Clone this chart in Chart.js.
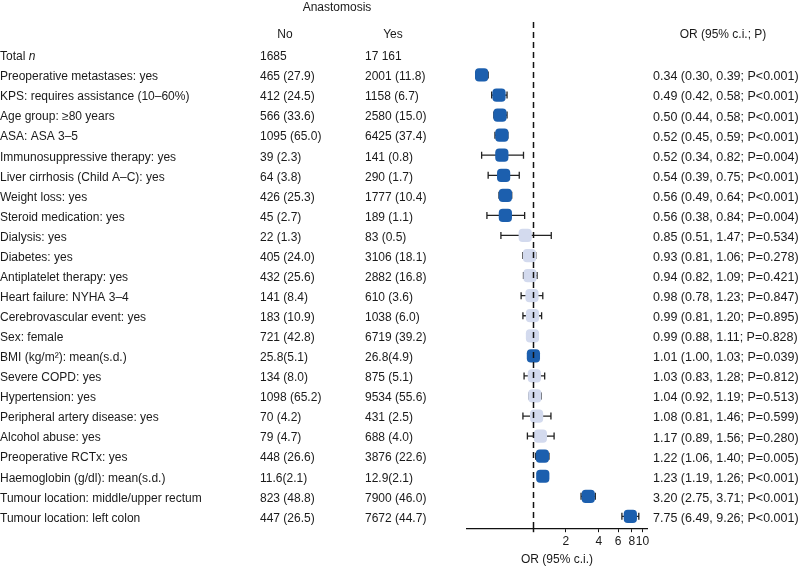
<!DOCTYPE html>
<html>
<head>
<meta charset="utf-8">
<script src="https://cdn.jsdelivr.net/npm/chart.js@4"></script>
<style>
  html, body { margin: 0; padding: 0; background: #fff; }
  #forest { display: block; }
</style>
</head>
<body>
<canvas id="forest" width="800" height="567"></canvas>
<script>
// rows of the table, top to bottom
var row_labels = [
    "Preoperative metastases: yes",
    "KPS: requires assistance (10\u201360%)",
    "Age group: \u226580 years",
    "ASA: ASA 3\u20135",
    "Immunosuppressive therapy: yes",
    "Liver cirrhosis (Child A\u2013C): yes",
    "Weight loss: yes",
    "Steroid medication: yes",
    "Dialysis: yes",
    "Diabetes: yes",
    "Antiplatelet therapy: yes",
    "Heart failure: NYHA 3\u20134",
    "Cerebrovascular event: yes",
    "Sex: female",
    "BMI (kg/m\u00b2): mean(s.d.)",
    "Severe COPD: yes",
    "Hypertension: yes",
    "Peripheral artery disease: yes",
    "Alcohol abuse: yes",
    "Preoperative RCTx: yes",
    "Haemoglobin (g/dl): mean(s.d.)",
    "Tumour location: middle/upper rectum",
    "Tumour location: left colon"
];
var no_values = ["465 (27.9)", "412 (24.5)", "566 (33.6)", "1095 (65.0)", "39 (2.3)", "64 (3.8)",
                 "426 (25.3)", "45 (2.7)", "22 (1.3)", "405 (24.0)", "432 (25.6)", "141 (8.4)",
                 "183 (10.9)", "721 (42.8)", "25.8(5.1)", "134 (8.0)", "1098 (65.2)", "70 (4.2)",
                 "79 (4.7)", "448 (26.6)", "11.6(2.1)", "823 (48.8)", "447 (26.5)"];
var yes_values = ["2001 (11.8)", "1158 (6.7)", "2580 (15.0)", "6425 (37.4)", "141 (0.8)", "290 (1.7)",
                  "1777 (10.4)", "189 (1.1)", "83 (0.5)", "3106 (18.1)", "2882 (16.8)", "610 (3.6)",
                  "1038 (6.0)", "6719 (39.2)", "26.8(4.9)", "875 (5.1)", "9534 (55.6)", "431 (2.5)",
                  "688 (4.0)", "3876 (22.6)", "12.9(2.1)", "7900 (46.0)", "7672 (44.7)"];
var odds_ratio = [0.34, 0.49, 0.50, 0.52, 0.52, 0.54, 0.56, 0.56, 0.85, 0.93, 0.94, 0.98,
                  0.99, 0.99, 1.01, 1.03, 1.04, 1.08, 1.17, 1.22, 1.23, 3.20, 7.75];
var ci_low  = [0.30, 0.42, 0.44, 0.45, 0.34, 0.39, 0.49, 0.38, 0.51, 0.81, 0.82, 0.78,
               0.81, 0.88, 1.00, 0.83, 0.92, 0.81, 0.89, 1.06, 1.19, 2.75, 6.49];
var ci_high = [0.39, 0.58, 0.58, 0.59, 0.82, 0.75, 0.64, 0.84, 1.47, 1.06, 1.09, 1.23,
               1.20, 1.11, 1.03, 1.28, 1.19, 1.46, 1.56, 1.40, 1.26, 3.71, 9.26];
var p_text = ["P<0.001", "P<0.001", "P<0.001", "P<0.001", "P=0.004", "P<0.001", "P<0.001",
              "P=0.004", "P=0.534", "P=0.278", "P=0.421", "P=0.847", "P=0.895", "P=0.828",
              "P=0.039", "P=0.812", "P=0.513", "P=0.599", "P=0.280", "P=0.005", "P<0.001",
              "P<0.001", "P<0.001"];
var significant = [1, 1, 1, 1, 1, 1, 1, 1, 0, 0, 0, 0, 0, 0, 1, 0, 0, 0, 0, 1, 1, 1, 1];
var total_no = "1685";
var total_yes = "17 161";
var x_ticks = [2, 4, 6, 8, 10];

var dark_blue = "#1c5fae";
var light_blue = "#d3daee";
var text_color = "#1a1a1a";
var text_font = "12px 'Liberation Sans', Arial, sans-serif";
var or_font = "12.5px 'Liberation Sans', Arial, sans-serif";

var points = [];
var point_colors = [];
for (let i = 0; i < odds_ratio.length; i++) {
    points.push({x: odds_ratio[i], y: i + 1});   // row 0 is "Total n"
    point_colors.push(significant[i] ? dark_blue : light_blue);
}

// dashed reference line at OR = 1, drawn on top of the markers
var refLine = {
    id: "refLine",
    afterDatasetsDraw(chart) {
        let ctx = chart.ctx;
        let x = Math.round(chart.scales.x.getPixelForValue(1)) + 0.5;
        ctx.save();
        ctx.strokeStyle = "#111";
        ctx.lineWidth = 1.5;
        ctx.setLineDash([6, 4]);
        ctx.beginPath();
        ctx.moveTo(x, chart.chartArea.top);
        ctx.lineTo(x, chart.chartArea.bottom);
        ctx.stroke();
        ctx.setLineDash([]);
        ctx.beginPath();
        ctx.moveTo(x, chart.chartArea.bottom);
        ctx.lineTo(x, chart.chartArea.bottom + 4);
        ctx.stroke();
        ctx.restore();
    }
};

// confidence interval whiskers, under the markers
var errorBars = {
    id: "errorBars",
    beforeDatasetsDraw(chart) {
        let ctx = chart.ctx;
        let xs = chart.scales.x, ys = chart.scales.y;
        ctx.save();
        ctx.strokeStyle = "#222";
        ctx.lineWidth = 1.3;
        for (let i = 0; i < odds_ratio.length; i++) {
            let y = ys.getPixelForValue(i + 1);
            let x1 = xs.getPixelForValue(ci_low[i]);
            let x2 = xs.getPixelForValue(ci_high[i]);
            ctx.beginPath();
            ctx.moveTo(x1, y); ctx.lineTo(x2, y);
            ctx.moveTo(x1, y - 3.5); ctx.lineTo(x1, y + 3.5);
            ctx.moveTo(x2, y - 3.5); ctx.lineTo(x2, y + 3.5);
            ctx.stroke();
        }
        ctx.restore();
    }
};

// the table columns left and right of the plot
var tableText = {
    id: "tableText",
    afterDraw(chart) {
        let ctx = chart.ctx;
        let ys = chart.scales.y;
        let dy = 2;   // text sits a touch below the marker centres
        ctx.save();
        ctx.fillStyle = text_color;
        ctx.font = text_font;
        ctx.textBaseline = "middle";

        ctx.textAlign = "center";
        ctx.fillText("Anastomosis", 337, 8);
        ctx.fillText("No", 285, 35);
        ctx.fillText("Yes", 393, 35);
        ctx.fillText("OR (95% c.i.; P)", 723, 35);

        ctx.textAlign = "left";
        let y0 = ys.getPixelForValue(0) + dy;
        ctx.fillText("Total ", 0, y0);
        let w = ctx.measureText("Total ").width;
        ctx.font = "italic " + text_font;
        ctx.fillText("n", w, y0);
        ctx.font = text_font;
        ctx.fillText(total_no, 260, y0);
        ctx.fillText(total_yes, 365, y0);

        for (let i = 0; i < row_labels.length; i++) {
            let y = ys.getPixelForValue(i + 1) + dy;
            ctx.font = text_font;
            ctx.fillText(row_labels[i], 0, y);
            ctx.fillText(no_values[i], 260, y);
            ctx.fillText(yes_values[i], 365, y);
            let or_str = odds_ratio[i].toFixed(2) + " (" + ci_low[i].toFixed(2) + ", " +
                         ci_high[i].toFixed(2) + "; " + p_text[i] + ")";
            ctx.font = or_font;
            ctx.fillText(or_str, 653, y);
        }
        ctx.restore();
    }
};

new Chart(document.getElementById("forest"), {
    type: "scatter",
    data: {
        datasets: [{
            data: points,
            pointStyle: "rectRounded",
            pointRadius: 7.7,
            pointHoverRadius: 7.7,
            pointBackgroundColor: point_colors,
            pointBorderWidth: 0,
            pointBorderColor: point_colors
        }]
    },
    options: {
        responsive: false,
        animation: false,
        layout: {
            padding: {left: 467, right: 153, top: 22, bottom: 0}
        },
        plugins: {
            legend: { display: false },
            tooltip: { enabled: false }
        },
        scales: {
            x: {
                type: "logarithmic",
                min: 0.25,
                max: 11,
                afterBuildTicks: function(scale) {
                    scale.ticks = x_ticks.map(v => ({value: v}));
                },
                grid: {
                    drawOnChartArea: false,
                    drawTicks: true,
                    tickLength: 4,
                    color: "#111"
                },
                border: { display: true, color: "#111", width: 1.2 },
                ticks: {
                    color: text_color,
                    font: { family: "'Liberation Sans', Arial, sans-serif", size: 12 },
                    padding: 2,
                    maxRotation: 0,
                    autoSkip: false,
                    callback: function(value) { return String(value); }
                },
                title: {
                    display: true,
                    text: "OR (95% c.i.)",
                    color: text_color,
                    font: { family: "'Liberation Sans', Arial, sans-serif", size: 12 },
                    padding: { top: 2, bottom: 0 }
                }
            },
            y: {
                type: "linear",
                reverse: true,
                min: -1.64,
                max: 23.59,
                display: false
            }
        }
    },
    plugins: [refLine, errorBars, tableText]
});
</script>
</body>
</html>
